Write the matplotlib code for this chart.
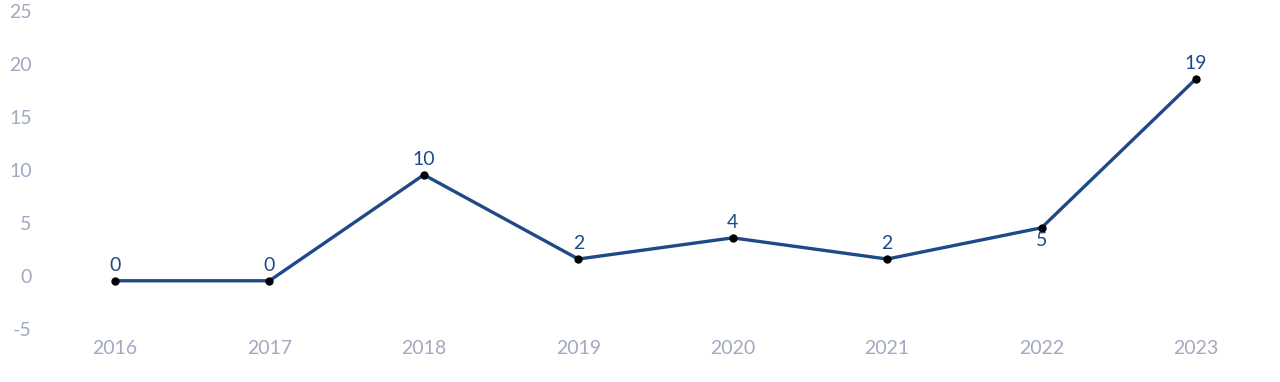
import matplotlib
matplotlib.use("Agg")
import matplotlib.pyplot as plt

# data
years = [2016, 2017, 2018, 2019, 2020, 2021, 2022, 2023]
values = [-0.45, -0.45, 9.55, 1.6, 3.6, 1.6, 4.55, 18.6]
labels = ["0", "0", "10", "2", "4", "2", "5", "19"]
below = [False, False, False, False, False, False, True, False]

plt.rcParams['font.family'] = ['Lato', 'DejaVu Sans']
plt.rcParams['axes.unicode_minus'] = False

fig = plt.figure(figsize=(12.8, 3.82), dpi=100)
ax = fig.add_axes([40 / 1280, 53 / 382, 1230 / 1280, 318 / 382])

ax.plot(years, values, color='#1f4a87', linewidth=2.4, zorder=2)
ax.plot(years, values, 'o', color='black', markersize=5, zorder=3)

for x, y, t, b in zip(years, values, labels, below):
    if b:
        ax.annotate(t, (x, y), xytext=(0, -3), textcoords='offset points',
                    ha='center', va='top', fontsize=14, color='#1f4a87')
    else:
        ax.annotate(t, (x, y), xytext=(0, 5), textcoords='offset points',
                    ha='center', va='bottom', fontsize=14, color='#1f4a87')

ax.set_xlim(2016 - 75 / 154.43, 2023 + 74 / 154.43)
ax.set_ylim(-5, 25)
ax.set_xticks(years)
ax.set_yticks([-5, 0, 5, 10, 15, 20, 25])
ax.tick_params(axis='both', length=0, labelsize=14, colors='#a3a8c3')
ax.tick_params(axis='x', pad=8)
ax.tick_params(axis='y', pad=6)
for s in ax.spines.values():
    s.set_visible(False)

fig.savefig('out.png', dpi=100)
